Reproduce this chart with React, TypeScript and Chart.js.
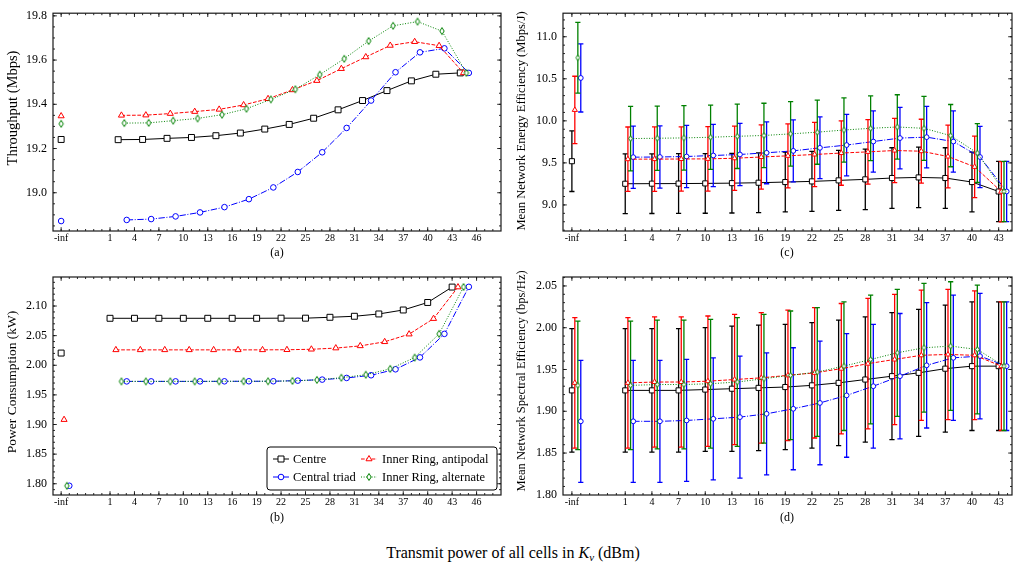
import React, { useEffect, useRef } from "react";
import { Chart, registerables } from "chart.js";

Chart.register(...registerables);

const FONT = "'Liberation Serif', 'Times New Roman', serif";
Chart.defaults.font.family = FONT;
Chart.defaults.color = "#000";

// ---------------- categories / ticks ----------------
const SERIES = ["Centre", "Central triad", "Inner Ring, antipodal", "Inner Ring, alternate"];
const TX_POWER = [1, 4, 7, 10, 13, 16, 19, 22, 25, 28, 31, 34, 37, 40, 43];
const NEG_INF_POS = -5;
const X_TICKS_AB = [-5, 1, 4, 7, 10, 13, 16, 19, 22, 25, 28, 31, 34, 37, 40, 43, 46];
const X_TICKS_CD = [-5, 1, 4, 7, 10, 13, 16, 19, 22, 25, 28, 31, 34, 37, 40, 43];
const Y_TICKS_A = [19.0, 19.2, 19.4, 19.6, 19.8];
const Y_TICKS_B = [1.8, 1.85, 1.9, 1.95, 2.0, 2.05, 2.1];
const Y_TICKS_C = [9.0, 9.5, 10.0, 10.5, 11.0];
const Y_TICKS_D = [1.8, 1.85, 1.9, 1.95, 2.0, 2.05];

// ---------------- (a) Throughput (Mbps) ----------------
const thrCentre = [19.240, 19.241, 19.246, 19.250, 19.258, 19.270, 19.288, 19.309, 19.337, 19.375, 19.417, 19.462, 19.506, 19.536, 19.542];
const thrCentreInf = 19.241;
const thrTriad = [18.877, 18.881, 18.893, 18.911, 18.935, 18.971, 19.024, 19.094, 19.183, 19.293, 19.417, 19.545, 19.635, 19.653, 19.542];
const thrTriadInf = 18.872;
const thrAntipodal = [19.350, 19.351, 19.358, 19.367, 19.377, 19.397, 19.425, 19.465, 19.507, 19.561, 19.614, 19.666, 19.683, 19.665, 19.542];
const thrAntipodalInf = 19.347;
const thrAlternate = [19.315, 19.316, 19.326, 19.336, 19.353, 19.380, 19.422, 19.468, 19.534, 19.606, 19.686, 19.755, 19.774, 19.731, 19.542];
const thrAlternateInf = 19.312;

// ---------------- (b) Power consumption (kW) ----------------
const powCentre = [2.0793, 2.0793, 2.0793, 2.0793, 2.0793, 2.0793, 2.0793, 2.0795, 2.0795, 2.0810, 2.0827, 2.0866, 2.0933, 2.1060, 2.1320];
const powCentreInf = 2.0206;
const powTriad = [1.9728, 1.9728, 1.9728, 1.9728, 1.9729, 1.9730, 1.9730, 1.9741, 1.9758, 1.9786, 1.9831, 1.9932, 2.0133, 2.0530, 2.1324];
const powTriadInf = 1.7966;
const powAntipodal = [2.0260, 2.0260, 2.0260, 2.0260, 2.0260, 2.0260, 2.0260, 2.0262, 2.0270, 2.0290, 2.0327, 2.0396, 2.0525, 2.0787, 2.1320];
const powAntipodalInf = 1.9082;
const powAlternate = [1.9728, 1.9728, 1.9728, 1.9728, 1.9729, 1.9730, 1.9730, 1.9736, 1.9753, 1.9790, 1.9840, 1.9940, 2.0130, 2.0530, 2.1322];
const powAlternateInf = 1.7966;

// ---------------- (c) Mean network energy efficiency (Mbps/J) ----------------
const eeCentre = [9.252, 9.253, 9.254, 9.256, 9.259, 9.264, 9.272, 9.280, 9.292, 9.304, 9.320, 9.327, 9.320, 9.272, 9.160];
const eeCentreErr = [0.355, 0.355, 0.355, 0.355, 0.355, 0.355, 0.355, 0.356, 0.357, 0.360, 0.360, 0.360, 0.360, 0.355, 0.358];
const eeCentreInf = 9.52;
const eeCentreInfErr = 0.36;
const eeTriad = [9.568, 9.570, 9.576, 9.588, 9.600, 9.620, 9.643, 9.679, 9.712, 9.754, 9.795, 9.806, 9.754, 9.570, 9.160];
const eeTriadErr = [0.370, 0.370, 0.370, 0.370, 0.370, 0.368, 0.368, 0.367, 0.366, 0.365, 0.366, 0.366, 0.365, 0.365, 0.358];
const eeTriadInf = 10.51;
const eeTriadInfErr = 0.405;
const eeAntipodal = [9.544, 9.545, 9.546, 9.548, 9.555, 9.570, 9.584, 9.600, 9.617, 9.631, 9.647, 9.639, 9.576, 9.453, 9.158];
const eeAntipodalErr = [0.383, 0.383, 0.383, 0.383, 0.382, 0.382, 0.381, 0.382, 0.383, 0.383, 0.382, 0.380, 0.373, 0.365, 0.358];
const eeAntipodalInf = 10.13;
const eeAntipodalInfErr = 0.40;
const eeAlternate = [9.789, 9.793, 9.797, 9.805, 9.816, 9.826, 9.845, 9.865, 9.891, 9.911, 9.927, 9.911, 9.824, 9.617, 9.160];
const eeAlternateErr = [0.383, 0.383, 0.383, 0.383, 0.383, 0.383, 0.383, 0.381, 0.383, 0.385, 0.383, 0.380, 0.370, 0.350, 0.358];
const eeAlternateInf = 10.75;
const eeAlternateInfErr = 0.42;

// ---------------- (d) Mean network spectral efficiency (bps/Hz) ----------------
const seCentre = [1.925, 1.925, 1.925, 1.926, 1.927, 1.928, 1.929, 1.931, 1.934, 1.938, 1.942, 1.946, 1.951, 1.954, 1.954];
const seCentreErr = [0.074, 0.074, 0.074, 0.074, 0.075, 0.075, 0.075, 0.075, 0.075, 0.075, 0.076, 0.076, 0.076, 0.077, 0.077];
const seCentreInf = 1.925;
const seCentreInfErr = 0.074;
const seTriad = [1.888, 1.888, 1.889, 1.891, 1.893, 1.897, 1.903, 1.910, 1.919, 1.930, 1.942, 1.955, 1.964, 1.966, 1.954];
const seTriadErr = [0.073, 0.073, 0.073, 0.073, 0.073, 0.073, 0.073, 0.074, 0.074, 0.074, 0.075, 0.075, 0.075, 0.075, 0.077];
const seTriadInf = 1.888;
const seTriadInfErr = 0.073;
const seAntipodal = [1.934, 1.935, 1.935, 1.936, 1.938, 1.940, 1.943, 1.946, 1.951, 1.957, 1.962, 1.967, 1.968, 1.967, 1.954];
const seAntipodalErr = [0.078, 0.078, 0.078, 0.078, 0.078, 0.078, 0.078, 0.078, 0.078, 0.078, 0.078, 0.078, 0.078, 0.077, 0.077];
const seAntipodalInf = 1.934;
const seAntipodalInfErr = 0.078;
const seAlternate = [1.931, 1.932, 1.932, 1.933, 1.935, 1.939, 1.943, 1.947, 1.954, 1.962, 1.970, 1.976, 1.978, 1.974, 1.954];
const seAlternateErr = [0.077, 0.077, 0.077, 0.077, 0.077, 0.077, 0.077, 0.077, 0.077, 0.077, 0.076, 0.077, 0.077, 0.077, 0.077];
const seAlternateInf = 1.931;
const seAlternateInfErr = 0.077;

// ---------------- styles ----------------
const COLORS = ["#000000", "#0000ff", "#ff0000", "#008000"];
const DASHES = [[], [6.4, 1.6, 1, 1.6], [3.7, 1.6], [1, 1.65]];
const MARKERS = ["rect", "circle", "triangle", "diamond"];

function range(a: number, b: number, step: number) {
  const out: number[] = [];
  const n = Math.round((b - a) / step);
  for (let i = 0; i <= n; i++) out.push(+(a + i * step).toFixed(6));
  return out;
}

function diamondCanvas(w: number, h: number, color: string) {
  const c = document.createElement("canvas");
  const W = Math.ceil(w) + 3;
  const H = Math.ceil(h) + 3;
  c.width = W;
  c.height = H;
  const g = c.getContext("2d")!;
  const cx = W / 2, cy = H / 2;
  g.beginPath();
  g.moveTo(cx, cy - h / 2);
  g.lineTo(cx + w / 2, cy);
  g.lineTo(cx, cy + h / 2);
  g.lineTo(cx - w / 2, cy);
  g.closePath();
  g.fillStyle = "#fff";
  g.fill();
  g.strokeStyle = color;
  g.lineWidth = 1;
  g.stroke();
  return c;
}

type SeriesIn = { values: number[]; inf: number; errors?: number[]; infErr?: number };
type Panel = {
  left: number; top: number; width: number; height: number;
  area: { left: number; top: number; right: number; bottom: number };
  xMin: number; xMax: number; yMin: number; yMax: number;
  xTicks: number[]; xMinor: number[]; yTicks: number[]; yMinor: number[]; yDigits: number;
  title: string; titleX: number; titleY: number; titleSize: number;
  series: SeriesIn[];
  dodge: number[]; infDodge: number[];
  big: boolean;
  legend?: boolean;
};

const PANELS: Panel[] = [
  {
    left: 0, top: 0, width: 512, height: 262,
    area: { left: 53, top: 13, right: 501, bottom: 231 },
    xMin: -6, xMax: 49, yMin: 18.827, yMax: 19.812,
    xTicks: X_TICKS_AB, xMinor: range(-6, 49, 1), yTicks: Y_TICKS_A, yMinor: range(18.85, 19.8, 0.05), yDigits: 1,
    title: "Throughput (Mbps)", titleX: 13, titleY: 108, titleSize: 14.5,
    series: [
      { values: thrCentre, inf: thrCentreInf },
      { values: thrTriad, inf: thrTriadInf },
      { values: thrAntipodal, inf: thrAntipodalInf },
      { values: thrAlternate, inf: thrAlternateInf },
    ],
    dodge: [1.0, 2.05, 1.4, 1.75], infDodge: [0, 0, 0, 0], big: true,
  },
  {
    left: 0, top: 262, width: 512, height: 264,
    area: { left: 53, top: 15, right: 501, bottom: 233 },
    xMin: -6, xMax: 49, yMin: 1.781, yMax: 2.149,
    xTicks: X_TICKS_AB, xMinor: range(-6, 49, 1), yTicks: Y_TICKS_B, yMinor: range(1.79, 2.14, 0.01), yDigits: 2,
    title: "Power Consumption (kW)", titleX: 12, titleY: 120, titleSize: 13.5,
    series: [
      { values: powCentre, inf: powCentreInf },
      { values: powTriad, inf: powTriadInf },
      { values: powAntipodal, inf: powAntipodalInf },
      { values: powAlternate, inf: powAlternateInf },
    ],
    dodge: [0, 2.05, 0.72, 1.4], infDodge: [0, 1.0, 0.36, 0.7], big: true, legend: true,
  },
  {
    left: 512, top: 0, width: 514, height: 262,
    area: { left: 51, top: 13, right: 500, bottom: 231 },
    xMin: -6, xMax: 44.5, yMin: 8.69, yMax: 11.28,
    xTicks: X_TICKS_CD, xMinor: range(-6, 44, 1), yTicks: Y_TICKS_C, yMinor: range(8.7, 11.2, 0.1), yDigits: 1,
    title: "Mean Network Energy Efficiency (Mbps/J)", titleX: 10, titleY: 121, titleSize: 12.6,
    series: [
      { values: eeCentre, inf: eeCentreInf, errors: eeCentreErr, infErr: eeCentreInfErr },
      { values: eeTriad, inf: eeTriadInf, errors: eeTriadErr, infErr: eeTriadInfErr },
      { values: eeAntipodal, inf: eeAntipodalInf, errors: eeAntipodalErr, infErr: eeAntipodalInfErr },
      { values: eeAlternate, inf: eeAlternateInf, errors: eeAlternateErr, infErr: eeAlternateInfErr },
    ],
    dodge: [0, 0.9, 0.3, 0.6], infDodge: [0, 1.0, 0.33, 0.67], big: false,
  },
  {
    left: 512, top: 262, width: 514, height: 264,
    area: { left: 51, top: 15, right: 500, bottom: 233 },
    xMin: -6, xMax: 44.5, yMin: 1.7998, yMax: 2.0607,
    xTicks: X_TICKS_CD, xMinor: range(-6, 44, 1), yTicks: Y_TICKS_D, yMinor: range(1.8, 2.06, 0.01), yDigits: 2,
    title: "Mean Network Spectral Efficiency (bps/Hz)", titleX: 10, titleY: 119, titleSize: 12.5,
    series: [
      { values: seCentre, inf: seCentreInf, errors: seCentreErr, infErr: seCentreInfErr },
      { values: seTriad, inf: seTriadInf, errors: seTriadErr, infErr: seTriadInfErr },
      { values: seAntipodal, inf: seAntipodalInf, errors: seAntipodalErr, infErr: seAntipodalInfErr },
      { values: seAlternate, inf: seAlternateInf, errors: seAlternateErr, infErr: seAlternateInfErr },
    ],
    dodge: [0, 0.9, 0.3, 0.6], infDodge: [0, 1.0, 0.33, 0.67], big: false,
  },
];

function markerProps(k: number, big: boolean) {
  const m = MARKERS[k];
  if (m === "diamond") {
    return { pointStyle: big ? diamondCanvas(4.4, 7, COLORS[k]) : diamondCanvas(3.8, 5.6, COLORS[k]), pointRadius: 3 };
  }
  if (m === "rect") return { pointStyle: "rect", pointRadius: big ? 4.2 : 3.6 };
  if (m === "circle") return { pointStyle: "circle", pointRadius: big ? 2.8 : 2.4 };
  return { pointStyle: "triangle", pointRadius: big ? 3.5 : 3.0 };
}

function drawMarker(ctx: CanvasRenderingContext2D, k: number, x: number, y: number) {
  const color = COLORS[k];
  ctx.save();
  ctx.setLineDash([]);
  ctx.strokeStyle = color;
  ctx.fillStyle = "#fff";
  ctx.lineWidth = 1;
  ctx.beginPath();
  if (k === 0) {
    ctx.rect(x - 3, y - 3, 6, 6);
  } else if (k === 1) {
    ctx.arc(x, y, 2.8, 0, Math.PI * 2);
  } else if (k === 2) {
    const r = 3.5;
    for (let i = 0; i < 3; i++) {
      const a = (i * 2 * Math.PI) / 3;
      const px = x + Math.sin(a) * r, py = y - Math.cos(a) * r;
      if (i === 0) ctx.moveTo(px, py); else ctx.lineTo(px, py);
    }
    ctx.closePath();
  } else {
    ctx.moveTo(x, y - 3.5);
    ctx.lineTo(x + 2.2, y);
    ctx.lineTo(x, y + 3.5);
    ctx.lineTo(x - 2.2, y);
    ctx.closePath();
  }
  ctx.fill();
  ctx.stroke();
  ctx.restore();
}

function buildConfig(p: Panel): any {
  const datasets = p.series.map((s, k) => {
    const data: any[] = [{ x: NEG_INF_POS + p.infDodge[k], y: s.inf }, { x: NEG_INF_POS + p.infDodge[k] + 0.5, y: null }];
    TX_POWER.forEach((tx, i) => data.push({ x: tx + p.dodge[k], y: s.values[i] }));
    const errors = s.errors ? [s.infErr, null, ...s.errors] : null;
    return {
      label: SERIES[k],
      data,
      errors,
      borderColor: COLORS[k],
      backgroundColor: COLORS[k],
      borderWidth: 1,
      borderDash: DASHES[k],
      pointBorderColor: COLORS[k],
      pointBackgroundColor: "#ffffff",
      pointBorderWidth: 1,
      ...markerProps(k, p.big),
      spanGaps: false,
      tension: 0,
      order: 3 - k,
    };
  });

  const decor = {
    id: "decor",
    beforeDatasetDraw(chart: any, args: any) {
      const ds = chart.data.datasets[args.index];
      if (!ds.errors) return;
      const { ctx, chartArea: a } = chart;
      const ys = chart.scales.y;
      ctx.save();
      ctx.beginPath();
      ctx.rect(a.left, a.top, a.right - a.left, a.bottom - a.top);
      ctx.clip();
      ctx.strokeStyle = ds.borderColor;
      ctx.lineWidth = 1.3;
      ctx.setLineDash([]);
      const cap = 2.6;
      args.meta.data.forEach((el: any, i: number) => {
        const v = ds.data[i].y;
        const e = ds.errors[i];
        if (v == null || e == null || !isFinite(el.x)) return;
        const px = el.x;
        const top = ys.getPixelForValue(v + e);
        const bot = ys.getPixelForValue(v - e);
        ctx.beginPath();
        ctx.moveTo(px, top);
        ctx.lineTo(px, bot);
        ctx.moveTo(px - cap, top);
        ctx.lineTo(px + cap, top);
        ctx.moveTo(px - cap, bot);
        ctx.lineTo(px + cap, bot);
        ctx.stroke();
      });
      ctx.restore();
    },
    afterDraw(chart: any) {
      const { ctx, chartArea: a } = chart;
      const xs = chart.scales.x, ys = chart.scales.y;
      ctx.save();
      ctx.setLineDash([]);
      ctx.strokeStyle = "#111";
      ctx.lineWidth = 0.9;
      ctx.beginPath();
      const tickX = (v: number, len: number) => {
        const px = xs.getPixelForValue(v);
        if (px < a.left + 0.5 || px > a.right - 0.5) return;
        ctx.moveTo(px, a.bottom);
        ctx.lineTo(px, a.bottom - len);
        ctx.moveTo(px, a.top);
        ctx.lineTo(px, a.top + len);
      };
      const tickY = (v: number, len: number) => {
        const py = ys.getPixelForValue(v);
        if (py < a.top + 0.5 || py > a.bottom - 0.5) return;
        ctx.moveTo(a.left, py);
        ctx.lineTo(a.left + len, py);
        ctx.moveTo(a.right, py);
        ctx.lineTo(a.right - len, py);
      };
      p.xMinor.forEach((v) => tickX(v, 2));
      p.xTicks.forEach((v) => tickX(v, 3.8));
      p.yMinor.forEach((v) => tickY(v, 2));
      p.yTicks.forEach((v) => tickY(v, 3.8));
      ctx.stroke();
      ctx.lineWidth = 1.2;
      ctx.strokeStyle = "#1a1a1a";
      ctx.strokeRect(a.left, a.top, a.right - a.left, a.bottom - a.top);

      // y title
      ctx.save();
      ctx.translate(p.titleX, p.titleY);
      ctx.rotate(-Math.PI / 2);
      ctx.font = `${p.titleSize}px ${FONT}`;
      ctx.fillStyle = "#000";
      ctx.textAlign = "center";
      ctx.textBaseline = "middle";
      ctx.fillText(p.title, 0, 0);
      ctx.restore();

      if (p.legend) {
        const bx = 267, by = 185, bw = 230, bh = 43, r = 3;
        ctx.save();
        ctx.beginPath();
        ctx.moveTo(bx + r, by);
        ctx.lineTo(bx + bw - r, by);
        ctx.arcTo(bx + bw, by, bx + bw, by + r, r);
        ctx.lineTo(bx + bw, by + bh - r);
        ctx.arcTo(bx + bw, by + bh, bx + bw - r, by + bh, r);
        ctx.lineTo(bx + r, by + bh);
        ctx.arcTo(bx, by + bh, bx, by + bh - r, r);
        ctx.lineTo(bx, by + r);
        ctx.arcTo(bx, by, bx + r, by, r);
        ctx.closePath();
        ctx.fillStyle = "rgba(255,255,255,0.85)";
        ctx.fill();
        ctx.strokeStyle = "#000";
        ctx.lineWidth = 1;
        ctx.stroke();
        const items = [
          { k: 0, x0: 273, x1: 289, tx: 293, y: 197 },
          { k: 1, x0: 273, x1: 289, tx: 293, y: 215 },
          { k: 2, x0: 361, x1: 377, tx: 382, y: 197 },
          { k: 3, x0: 361, x1: 377, tx: 382, y: 215 },
        ];
        ctx.font = `12.5px ${FONT}`;
        ctx.textAlign = "left";
        ctx.textBaseline = "middle";
        items.forEach((it) => {
          ctx.beginPath();
          ctx.setLineDash(DASHES[it.k]);
          ctx.strokeStyle = COLORS[it.k];
          ctx.lineWidth = 1;
          ctx.moveTo(it.x0, it.y);
          ctx.lineTo(it.x1, it.y);
          ctx.stroke();
          drawMarker(ctx, it.k, (it.x0 + it.x1) / 2, it.y);
          ctx.fillStyle = "#000";
          ctx.fillText(SERIES[it.k], it.tx, it.y + 0.5);
        });
        ctx.restore();
      }
      ctx.restore();
    },
  };

  const yWidth = p.area.left;
  const xHeight = p.height - p.area.bottom;

  return {
    type: "line",
    data: { datasets },
    options: {
      animation: false,
      responsive: false,
      maintainAspectRatio: false,
      events: [],
      layout: { padding: { left: 0, top: p.area.top, right: p.width - p.area.right, bottom: 0 }, autoPadding: false },
      plugins: { legend: { display: false }, tooltip: { enabled: false } },
      scales: {
        x: {
          type: "linear",
          min: p.xMin,
          max: p.xMax,
          grid: { display: false, drawTicks: false },
          border: { display: false },
          afterFit: (s: any) => { s.height = xHeight; },
          afterBuildTicks: (s: any) => { s.ticks = p.xTicks.map((v) => ({ value: v })); },
          ticks: {
            autoSkip: false,
            maxRotation: 0,
            padding: 1,
            font: { size: 10, family: FONT },
            color: "#000",
            callback: (v: any) => (v === NEG_INF_POS ? "-inf" : String(v)),
          },
        },
        y: {
          type: "linear",
          min: p.yMin,
          max: p.yMax,
          grid: { display: false, drawTicks: false },
          border: { display: false },
          afterFit: (s: any) => { s.width = yWidth; },
          afterBuildTicks: (s: any) => { s.ticks = p.yTicks.map((v) => ({ value: v })); },
          ticks: {
            autoSkip: false,
            padding: 6,
            font: { size: 12, family: FONT },
            color: "#000",
            callback: (v: any) => Number(v).toFixed(p.yDigits),
          },
        },
      },
    },
    plugins: [decor],
  };
}

const CAPTIONS = [
  { text: "(a)", x: 277, y: 252 },
  { text: "(b)", x: 277, y: 517 },
  { text: "(c)", x: 787, y: 252 },
  { text: "(d)", x: 787, y: 517 },
];

export default function App() {
  const canvases = useRef<(HTMLCanvasElement | null)[]>([]);
  useEffect(() => {
    const charts = PANELS.map((p, i) => new Chart(canvases.current[i] as HTMLCanvasElement, buildConfig(p)));
    return () => charts.forEach((c) => c.destroy());
  }, []);
  return (
    <div style={{ position: "absolute", left: 0, top: 0, width: 1026, height: 576, background: "#fff", fontFamily: FONT, color: "#000", overflow: "hidden" }}>
      {PANELS.map((p, i) => (
        <canvas
          key={i}
          ref={(el) => { canvases.current[i] = el; }}
          width={p.width}
          height={p.height}
          style={{ position: "absolute", left: p.left, top: p.top, width: p.width, height: p.height }}
        />
      ))}
      {CAPTIONS.map((c) => (
        <div key={c.text} style={{ position: "absolute", left: c.x - 30, top: c.y - 8, width: 60, height: 16, lineHeight: "16px", textAlign: "center", fontSize: 12 }}>
          {c.text}
        </div>
      ))}
      <div style={{ position: "absolute", left: 213, top: 542, width: 600, height: 22, lineHeight: "22px", textAlign: "center", fontSize: 16 }}>
        Transmit power of all cells in <i>K<sub style={{ fontSize: 11, verticalAlign: "-3px", lineHeight: 0 }}>v</sub></i> (dBm)
      </div>
    </div>
  );
}
